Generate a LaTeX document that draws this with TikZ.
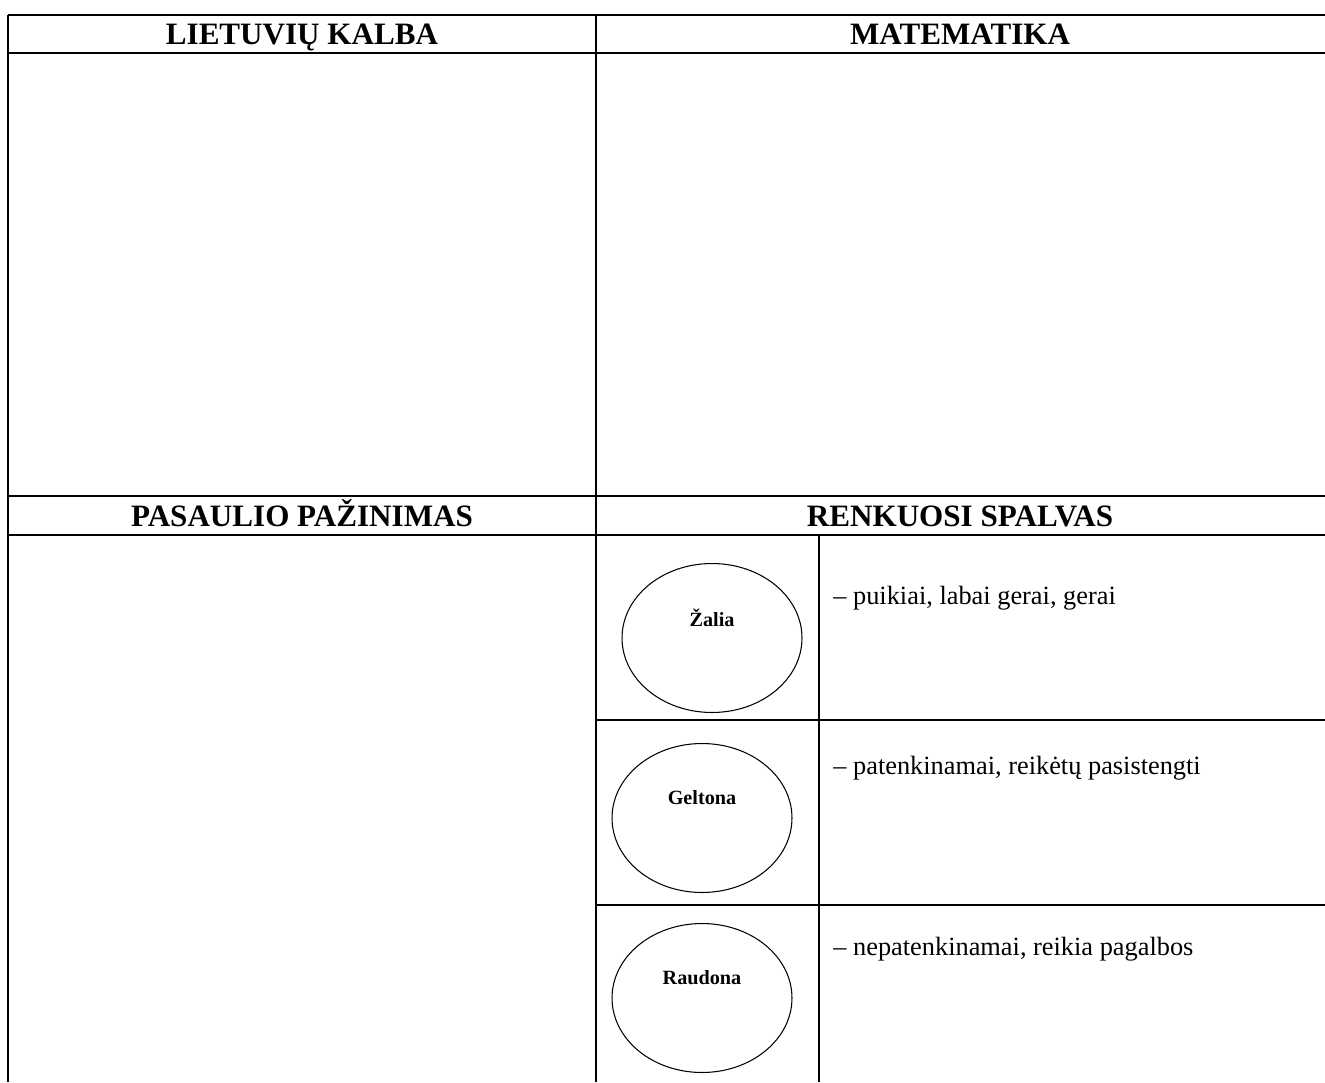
\documentclass[tikz,border=0pt]{standalone}
\usepackage{fontspec}
\setmainfont{Liberation Serif}
\usepackage{tikz}
\usetikzlibrary{shapes.geometric}

\tikzset{
  gridline/.style={line width=1.2pt},
  headtext/.style={font=\fontsize{17.7}{20}\selectfont\bfseries, anchor=base, inner sep=0pt},
  notetext/.style={font=\fontsize{15}{18}\selectfont, anchor=base west, inner sep=0pt},
  colouroval/.style={draw, ellipse, line width=0.6pt, minimum width=3.6cm, minimum height=2.98cm, inner sep=0pt},
  ovaltext/.style={font=\fontsize{11.5}{13}\selectfont\bfseries, inner sep=0pt}
}

\begin{document}
\begin{tikzpicture}[x=0.02cm, y=-0.02cm]
  \useasboundingbox (0,0) rectangle (1325,1082);

  % Table frame
  \draw[gridline] (8,15) -- (1325,15);
  \draw[gridline] (8,53) -- (1325,53);
  \draw[gridline] (8,496) -- (1325,496);
  \draw[gridline] (8,535) -- (1325,535);
  \draw[gridline] (596,720) -- (1325,720);
  \draw[gridline] (596,905) -- (1325,905);
  \draw[gridline] (8,15) -- (8,1082);
  \draw[gridline] (596,15) -- (596,1082);
  \draw[gridline] (819,535) -- (819,1082);

  % Headings
  \node[headtext] (lk) at (302,44) {LIETUVIŲ KALBA};
  \node[headtext] (mat) at (960,44) {MATEMATIKA};
  \node[headtext] (pp) at (302,526) {PASAULIO PAŽINIMAS};
  \node[headtext] (rs) at (960,526) {RENKUOSI SPALVAS};

  % Colours
  \node[colouroval] (zalia) at (712,638) {};
  \node[ovaltext] at ([yshift=0.4cm]zalia.center) {Žalia};
  \node[notetext] (zaliaNote) at (833,604) {– puikiai, labai gerai, gerai};

  \node[colouroval] (geltona) at (702,818) {};
  \node[ovaltext] at ([yshift=0.4cm]geltona.center) {Geltona};
  \node[notetext] (geltonaNote) at (833,774) {– patenkinamai, reikėtų pasistengti};

  \node[colouroval] (raudona) at (702,998) {};
  \node[ovaltext] at ([yshift=0.4cm]raudona.center) {Raudona};
  \node[notetext] (raudonaNote) at (833,955) {– nepatenkinamai, reikia pagalbos};
\end{tikzpicture}
\end{document}
